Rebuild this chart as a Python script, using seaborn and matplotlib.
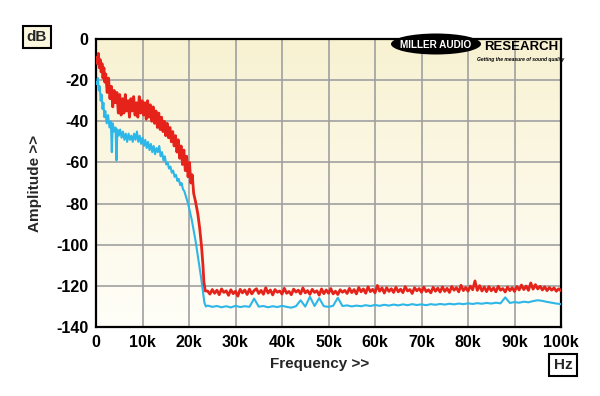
import numpy as np
import pandas as pd
import matplotlib
matplotlib.use("Agg")
from matplotlib import pyplot as plt
from matplotlib.patches import Ellipse
from matplotlib.colors import LinearSegmentedColormap
import seaborn as sns

# Datos (frecuencia en kHz, amplitud en dB)
# Traza roja: caida hasta ~23.5k
red_khz_low = [0.1, 0.3, 0.5, 0.7, 0.9, 1.1, 1.3, 1.5, 1.7, 1.9, 2.1, 2.4, 2.7, 3.0, 3.3,
               3.6, 3.9, 4.2, 4.5, 4.8, 5.1, 5.4, 5.7, 6.0, 6.3, 6.6, 6.9, 7.2, 7.5, 7.8,
               8.1, 8.4, 8.7, 9.0, 9.3, 9.6, 9.9, 10.2, 10.5, 10.8, 11.1, 11.4, 11.7, 12.0,
               12.3, 12.6, 12.9, 13.2, 13.5, 13.8, 14.1, 14.4, 14.7, 15.0, 15.3, 15.6, 15.9,
               16.2, 16.5, 16.8, 17.1, 17.4, 17.7, 18.0, 18.3, 18.6, 18.9, 19.2, 19.5, 19.8,
               20.1, 20.4, 20.7, 21.0, 21.4, 21.9, 22.3, 22.7, 23.0, 23.2, 23.5]
red_db_low = [-9, -12, -7, -14, -10, -16, -12, -19, -14, -21, -17, -26, -19, -29, -23,
              -33, -25, -31, -26, -36, -27, -37, -29, -36, -27, -35, -30, -38, -29, -35,
              -28, -37, -31, -38, -28, -36, -30, -37, -31, -39, -30, -38, -32, -40,
              -33, -41, -35, -43, -36, -44, -38, -45, -40, -47, -41, -48, -43,
              -50, -45, -52, -47, -55, -49, -58, -52, -61, -54, -64, -57, -67,
              -60, -70, -66, -75, -79, -85, -92, -101, -110, -118, -122.5]

# Traza roja: piso de ruido 24k-100k cada 0.5k
red_khz_floor = np.arange(24.0, 100.01, 0.5)
red_db_floor = [
    -122.5, -124.0, -121.8, -123.6, -122.1, -124.3, -121.5, -123.2, -122.4, -124.6,
    -121.9, -123.8, -122.6, -125.0, -121.7, -123.4, -122.0, -124.2, -121.6, -123.9, -122.3,
    -121.4, -123.7, -122.2, -124.1, -120.9, -123.5, -122.0, -124.4, -121.8, -123.1,
    -122.5, -124.0, -121.2, -123.6, -122.7, -124.3, -121.6, -123.0, -122.1, -123.9,
    -121.0, -123.4, -122.3, -124.1, -121.7, -123.2, -122.4, -124.5, -121.5, -123.8,
    -122.0, -123.6, -121.3, -123.9, -122.6, -124.2, -121.9, -123.1, -122.2, -123.7,
    -121.2, -123.3, -121.8, -123.9, -120.8, -122.9, -121.5, -123.6, -120.5, -122.8,
    -121.7, -123.4, -119.8, -122.6, -121.0, -123.5, -120.9, -122.7, -121.4, -123.2,
    -120.7, -122.9, -121.6, -123.3, -120.4, -122.5, -121.8, -123.7, -120.9, -122.4,
    -121.3, -123.1, -120.6, -122.8, -121.9, -123.4, -120.7, -122.6, -121.1, -123.0,
    -120.5, -122.7, -121.2, -123.2, -120.3, -122.1, -120.9, -122.9, -119.7, -122.3,
    -120.8, -122.6, -120.1, -121.9, -117.6, -122.2, -119.9, -122.5, -120.6, -122.8,
    -120.4, -122.4, -121.0, -122.9, -120.2, -122.1, -121.3, -123.0, -120.6, -122.3,
    -120.9, -122.7, -120.3, -122.0, -119.6, -121.8, -120.1, -122.2, -118.6, -121.6,
    -119.4, -121.5, -120.2, -122.0, -120.5, -122.3, -120.8, -122.1, -121.0, -122.6,
    -121.4, -122.4]

# Traza azul: caida hasta ~23.6k
blue_khz_low = [0.1, 0.2, 0.4, 0.6, 0.8, 1.0, 1.2, 1.4, 1.6, 1.8, 2.0, 2.3, 2.6, 2.9, 3.2,
                3.4, 3.6, 3.9, 4.2, 4.4, 4.6, 4.9, 5.2, 5.5, 5.8, 6.1, 6.4, 6.7, 7.0, 7.3,
                7.6, 7.9, 8.2, 8.5, 8.8, 9.1, 9.4, 9.7, 10.0, 10.3, 10.6, 10.9, 11.2, 11.5,
                11.8, 12.1, 12.4, 12.7, 13.0, 13.3, 13.6, 13.9, 14.2, 14.5, 14.8, 15.1,
                15.4, 15.7, 16.0, 16.3, 16.6, 16.9, 17.2, 17.5, 17.8, 18.1, 18.4, 18.7,
                19.0, 19.4, 19.8, 20.2, 20.6, 21.0, 21.4, 21.8, 22.2, 22.6, 23.0, 23.3, 23.6]
blue_db_low = [-21, -22, -19, -25, -23, -30, -27, -34, -31, -38, -35, -41, -37, -43, -40,
               -55, -41, -45, -43, -59, -44, -47, -44, -48, -45, -49, -46, -50, -46, -49,
               -47, -50, -46, -49, -45, -50, -47, -51, -48, -52, -49, -53, -50, -54,
               -51, -55, -52, -56, -53, -55, -52, -57, -55, -59, -57, -61,
               -60, -63, -62, -65, -64, -67, -66, -69, -68, -71, -70, -73,
               -74, -77, -80, -84, -88, -93, -98, -104, -110, -116, -123, -128, -130]

# Traza azul: piso de ruido 24k-100k cada 1k
blue_khz_floor = np.arange(24.0, 100.01, 1.0)
blue_db_floor = [
    -129.6, -130.2, -129.8, -130.4, -129.9, -130.5, -129.7, -130.3, -129.9, -130.2,
    -126.2, -130.1, -129.8, -130.4, -129.9, -130.3, -129.7, -130.2, -130.6, -129.9,
    -127.0, -130.1, -125.3, -129.8, -126.0, -129.9, -130.2, -129.7, -125.8, -129.8,
    -129.5, -130.0, -129.6, -129.9, -129.4, -129.8, -129.3, -129.7, -129.2, -129.6,
    -129.1, -129.5, -129.0, -129.4, -128.9, -129.3, -129.0, -129.4, -128.9, -129.2,
    -128.8, -129.1, -128.7, -129.0, -128.6, -128.9, -128.5, -128.8, -128.4, -128.7,
    -128.3, -128.6, -128.2, -128.5, -125.6, -128.3, -127.9, -128.2, -127.7, -128.0,
    -127.4, -127.0, -127.3, -127.8, -128.2, -128.6, -128.9]

x_ticks = [0, 10, 20, 30, 40, 50, 60, 70, 80, 90, 100]
x_tick_labels = ["0", "10k", "20k", "30k", "40k", "50k", "60k", "70k", "80k", "90k", "100k"]
y_ticks = [0, -20, -40, -60, -80, -100, -120, -140]

RED = "#E5231B"
BLUE = "#2DB6E8"


def armar_df(f_low, db_low, f_floor, db_floor):
    freq = list(f_low) + list(f_floor)
    amp = list(db_low) + list(db_floor)
    return pd.DataFrame({"freq": freq, "amp": amp})


def main():
    sns.set_style("white")
    plt.rcParams["font.family"] = ["Liberation Sans", "DejaVu Sans"]
    plt.rcParams["font.weight"] = "bold"

    fig = plt.figure(figsize=(6.0, 3.96), dpi=100)
    ax = fig.add_axes([96 / 600, 1 - 327 / 396, 465 / 600, 288 / 396])

    # fondo con degradado crema
    cmap = LinearSegmentedColormap.from_list("crema", ["#FFFEF8", "#F8F2D2"])
    grad = np.linspace(0, 1, 256).reshape(-1, 1)
    ax.imshow(grad, extent=[0, 100, -140, 0], origin="lower", aspect="auto",
              cmap=cmap, zorder=0)

    df_red = armar_df(red_khz_low, red_db_low, red_khz_floor, red_db_floor)
    df_blue = armar_df(blue_khz_low, blue_db_low, blue_khz_floor, blue_db_floor)

    sns.lineplot(data=df_blue, x="freq", y="amp", ax=ax, color=BLUE,
                 linewidth=1.5, estimator=None, zorder=3)
    sns.lineplot(data=df_red, x="freq", y="amp", ax=ax, color=RED,
                 linewidth=2.0, estimator=None, zorder=4)

    ax.set_xlim(0, 100)
    ax.set_ylim(-140, 0)
    ax.set_xticks(x_ticks)
    ax.set_xticklabels(x_tick_labels)
    ax.set_yticks(y_ticks)
    ax.set_yticklabels([str(v) for v in y_ticks])
    ax.set_xlabel("")
    ax.set_ylabel("")

    ax.grid(True, color="#A0A0A0", linewidth=1.2)
    ax.set_axisbelow(True)
    for s in ax.spines.values():
        s.set_visible(True)
        s.set_color("black")
        s.set_linewidth(1.6)
    ax.tick_params(axis="both", direction="out", length=4, width=1, color="#555555",
                   labelsize=11.5, labelcolor="black", pad=1.5)
    for lbl in ax.get_xticklabels() + ax.get_yticklabels():
        lbl.set_fontweight("bold")

    # titulos de ejes
    fig.text(320 / 600, 1 - 364 / 396, "Frequency >>", ha="center", va="center",
             fontsize=11, fontweight="bold")
    fig.text(35 / 600, 1 - 183 / 396, "Amplitude >>", ha="center", va="center",
             rotation=90, fontsize=11, fontweight="bold")

    # cajas de unidades
    fig.text(37 / 600, 1 - 37 / 396, "dB", ha="center", va="center", fontsize=11,
             fontweight="bold",
             bbox=dict(boxstyle="square,pad=0.28", fc="#FBF7DE", ec="black", lw=1.5))
    fig.text(563 / 600, 1 - 365 / 396, "Hz", ha="center", va="center", fontsize=11,
             fontweight="bold",
             bbox=dict(boxstyle="square,pad=0.28", fc="white", ec="black", lw=1.5))

    # logo
    elipse = Ellipse((436 / 600, 1 - 44 / 396), 90 / 600, 21 / 396,
                     transform=fig.transFigure, fc="black", ec="none", zorder=10)
    fig.add_artist(elipse)
    fig.text(436 / 600, 1 - 45 / 396, "MILLER AUDIO", ha="center", va="center",
             fontsize=7.2, fontweight="bold", color="white", zorder=11)
    fig.text(521 / 600, 1 - 47 / 396, "RESEARCH", ha="center", va="center",
             fontsize=9.5, fontweight="bold", color="black", zorder=11)
    fig.text(521 / 600, 1 - 59 / 396, "Getting the measure of sound quality",
             ha="center", va="center", fontsize=3.6, fontweight="bold",
             style="italic", color="black", zorder=11)

    fig.savefig("out.png", dpi=100)
    plt.close(fig)


if __name__ == "__main__":
    main()
